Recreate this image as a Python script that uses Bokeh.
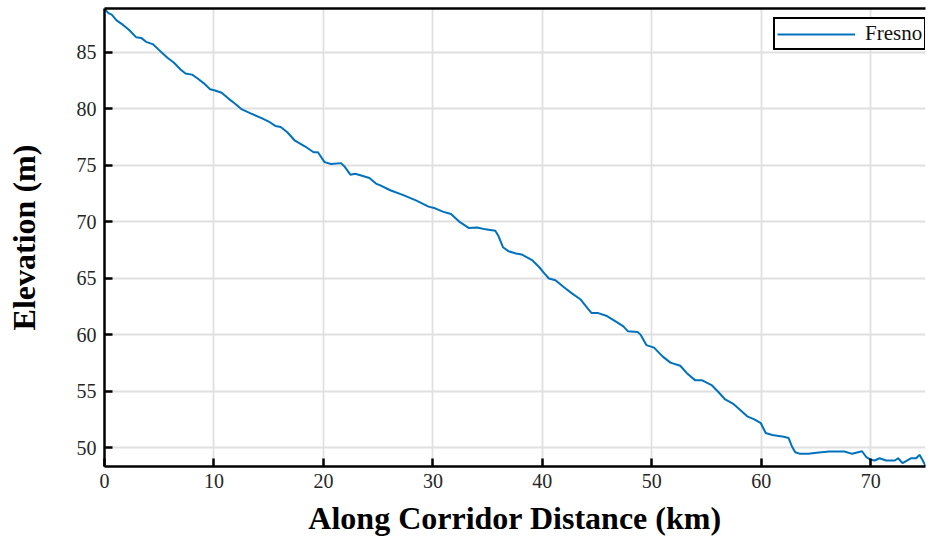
from bokeh.plotting import figure
from bokeh.models import Range1d, LinearAxis, FixedTicker, Legend, LegendItem
from bokeh.embed import file_html
from bokeh.resources import INLINE

# ---- data ----
series_name = "Fresno"
distance_km = [
    0.0, 0.36, 0.66, 1.1, 1.7, 2.3, 2.9, 3.35, 3.8, 4.4,
    4.85, 5.3, 5.75, 6.35, 6.95, 7.4, 8.0, 8.45, 9.05, 9.65,
    10.1, 10.7, 11.3, 11.9, 12.5, 13.4, 14.4, 15.0, 15.6, 16.1,
    16.7, 17.4, 18.3, 19.1, 19.5, 20.1, 20.7, 21.6, 21.9, 22.46,
    22.9, 23.6, 24.2, 24.8, 25.2, 26.1, 27.3, 28.5, 29.6, 30.2,
    30.9, 31.65, 32.4, 33.3, 34.05, 34.8, 35.7, 36.0, 36.4, 36.9,
    37.6, 38.1, 39.1, 39.7, 40.2, 40.6, 41.2, 42.0, 42.7, 43.5,
    44.1, 44.5, 45.1, 45.9, 46.8, 47.4, 47.8, 48.7, 49.0, 49.5,
    50.2, 51.0, 51.7, 52.6, 53.2, 53.97, 54.6, 55.5, 56.1, 56.7,
    57.4, 58.0, 58.76, 59.36, 59.96, 60.4, 61.0, 62.05, 62.5, 62.8,
    63.1, 63.55, 64.3, 65.05, 66.2, 67.6, 68.3, 69.2, 69.6, 70.0,
    70.35, 70.8, 71.4, 72.2, 72.5, 72.9, 73.7, 74.15, 74.45, 74.75,
    75.0,
]
elevation_m = [
    88.8, 88.44, 88.3, 87.8, 87.4, 86.9, 86.3, 86.25, 85.9, 85.7,
    85.3, 84.9, 84.5, 84.05, 83.45, 83.1, 83.0, 82.7, 82.25, 81.7,
    81.6, 81.4, 80.9, 80.45, 79.95, 79.55, 79.13, 78.85, 78.46, 78.37,
    77.9, 77.15, 76.66, 76.13, 76.13, 75.26, 75.1, 75.17, 74.9, 74.15,
    74.23, 74.03, 73.86, 73.36, 73.2, 72.77, 72.34, 71.85, 71.32, 71.17,
    70.88, 70.67, 70.0, 69.42, 69.48, 69.31, 69.19, 68.7, 67.73, 67.38,
    67.17, 67.09, 66.56, 65.98, 65.4, 64.96, 64.81, 64.17, 63.65, 63.1,
    62.36, 61.9, 61.9, 61.64, 61.11, 60.73, 60.3, 60.24, 59.95, 59.07,
    58.85, 58.05, 57.52, 57.24, 56.59, 55.95, 55.95, 55.5, 54.9, 54.26,
    53.9, 53.39, 52.74, 52.5, 52.16, 51.29, 51.11, 50.96, 50.85, 50.1,
    49.59, 49.45, 49.45, 49.54, 49.65, 49.65, 49.45, 49.68, 49.15, 48.92,
    48.86, 49.06, 48.86, 48.86, 49.06, 48.63, 49.06, 49.06, 49.36, 48.86,
    48.36,
]
x_ticks = [0, 10, 20, 30, 40, 50, 60, 70]
y_ticks = [50, 55, 60, 65, 70, 75, 80, 85]

SERIF = "Liberation Serif"
LINE_COLOR = "#0072BD"

p = figure(
    width=927, height=542,
    output_backend="svg", toolbar_location=None,
    x_range=Range1d(0, 75), y_range=Range1d(48.33, 88.85),
    min_border_left=104, min_border_right=2,
    min_border_top=8, min_border_bottom=76,
)
p.outline_line_color = None
p.background_fill_color = "white"
p.border_fill_color = "white"

r = p.line(distance_km, elevation_m, line_color=LINE_COLOR, line_width=2)

for ax, ticks in ((p.xaxis[0], x_ticks), (p.yaxis[0], y_ticks)):
    ax.ticker = FixedTicker(ticks=ticks)
    ax.axis_line_color = "black"
    ax.axis_line_width = 2.5
    ax.major_tick_line_color = "black"
    ax.major_tick_line_width = 2.5
    ax.major_tick_in = 8
    ax.major_tick_out = 0
    ax.minor_tick_line_color = None
    ax.major_label_text_font = SERIF
    ax.major_label_text_font_size = "20px"
    ax.major_label_text_color = "#262626"
    ax.axis_label_text_font = SERIF
    ax.axis_label_text_font_size = "32px"
    ax.axis_label_text_font_style = "bold"
    ax.axis_label_text_color = "black"

p.xaxis.axis_label = "Along Corridor Distance (km)"
p.xaxis.major_label_standoff = 7
p.xaxis.axis_label_standoff = 9
p.yaxis.axis_label = "Elevation (m)"
p.yaxis.major_label_standoff = 8
p.yaxis.axis_label_standoff = 32

top = LinearAxis(ticker=FixedTicker(ticks=[]), axis_line_color="black", axis_line_width=2.5,
                 major_tick_line_color=None, minor_tick_line_color=None,
                 major_label_text_font_size="0px", major_label_standoff=0,
                 axis_label_standoff=0)
p.add_layout(top, "above")

for g, ticks in ((p.xgrid[0], x_ticks), (p.ygrid[0], y_ticks)):
    g.ticker = FixedTicker(ticks=ticks)
    g.grid_line_color = "#e0e0e0"
    g.grid_line_width = 1.8

legend = Legend(
    items=[LegendItem(label=series_name, renderers=[r])],
    location=(669, 416),
    border_line_color="black", border_line_width=2, border_line_alpha=1,
    background_fill_color="white", background_fill_alpha=1,
    label_text_font=SERIF, label_text_font_size="21px", label_text_color="#111111",
    padding=2, glyph_width=78, glyph_height=16, label_height=16,
    label_standoff=10, margin=0, spacing=0,
)
p.add_layout(legend)

open("out.html", "w").write(file_html(p, INLINE))
